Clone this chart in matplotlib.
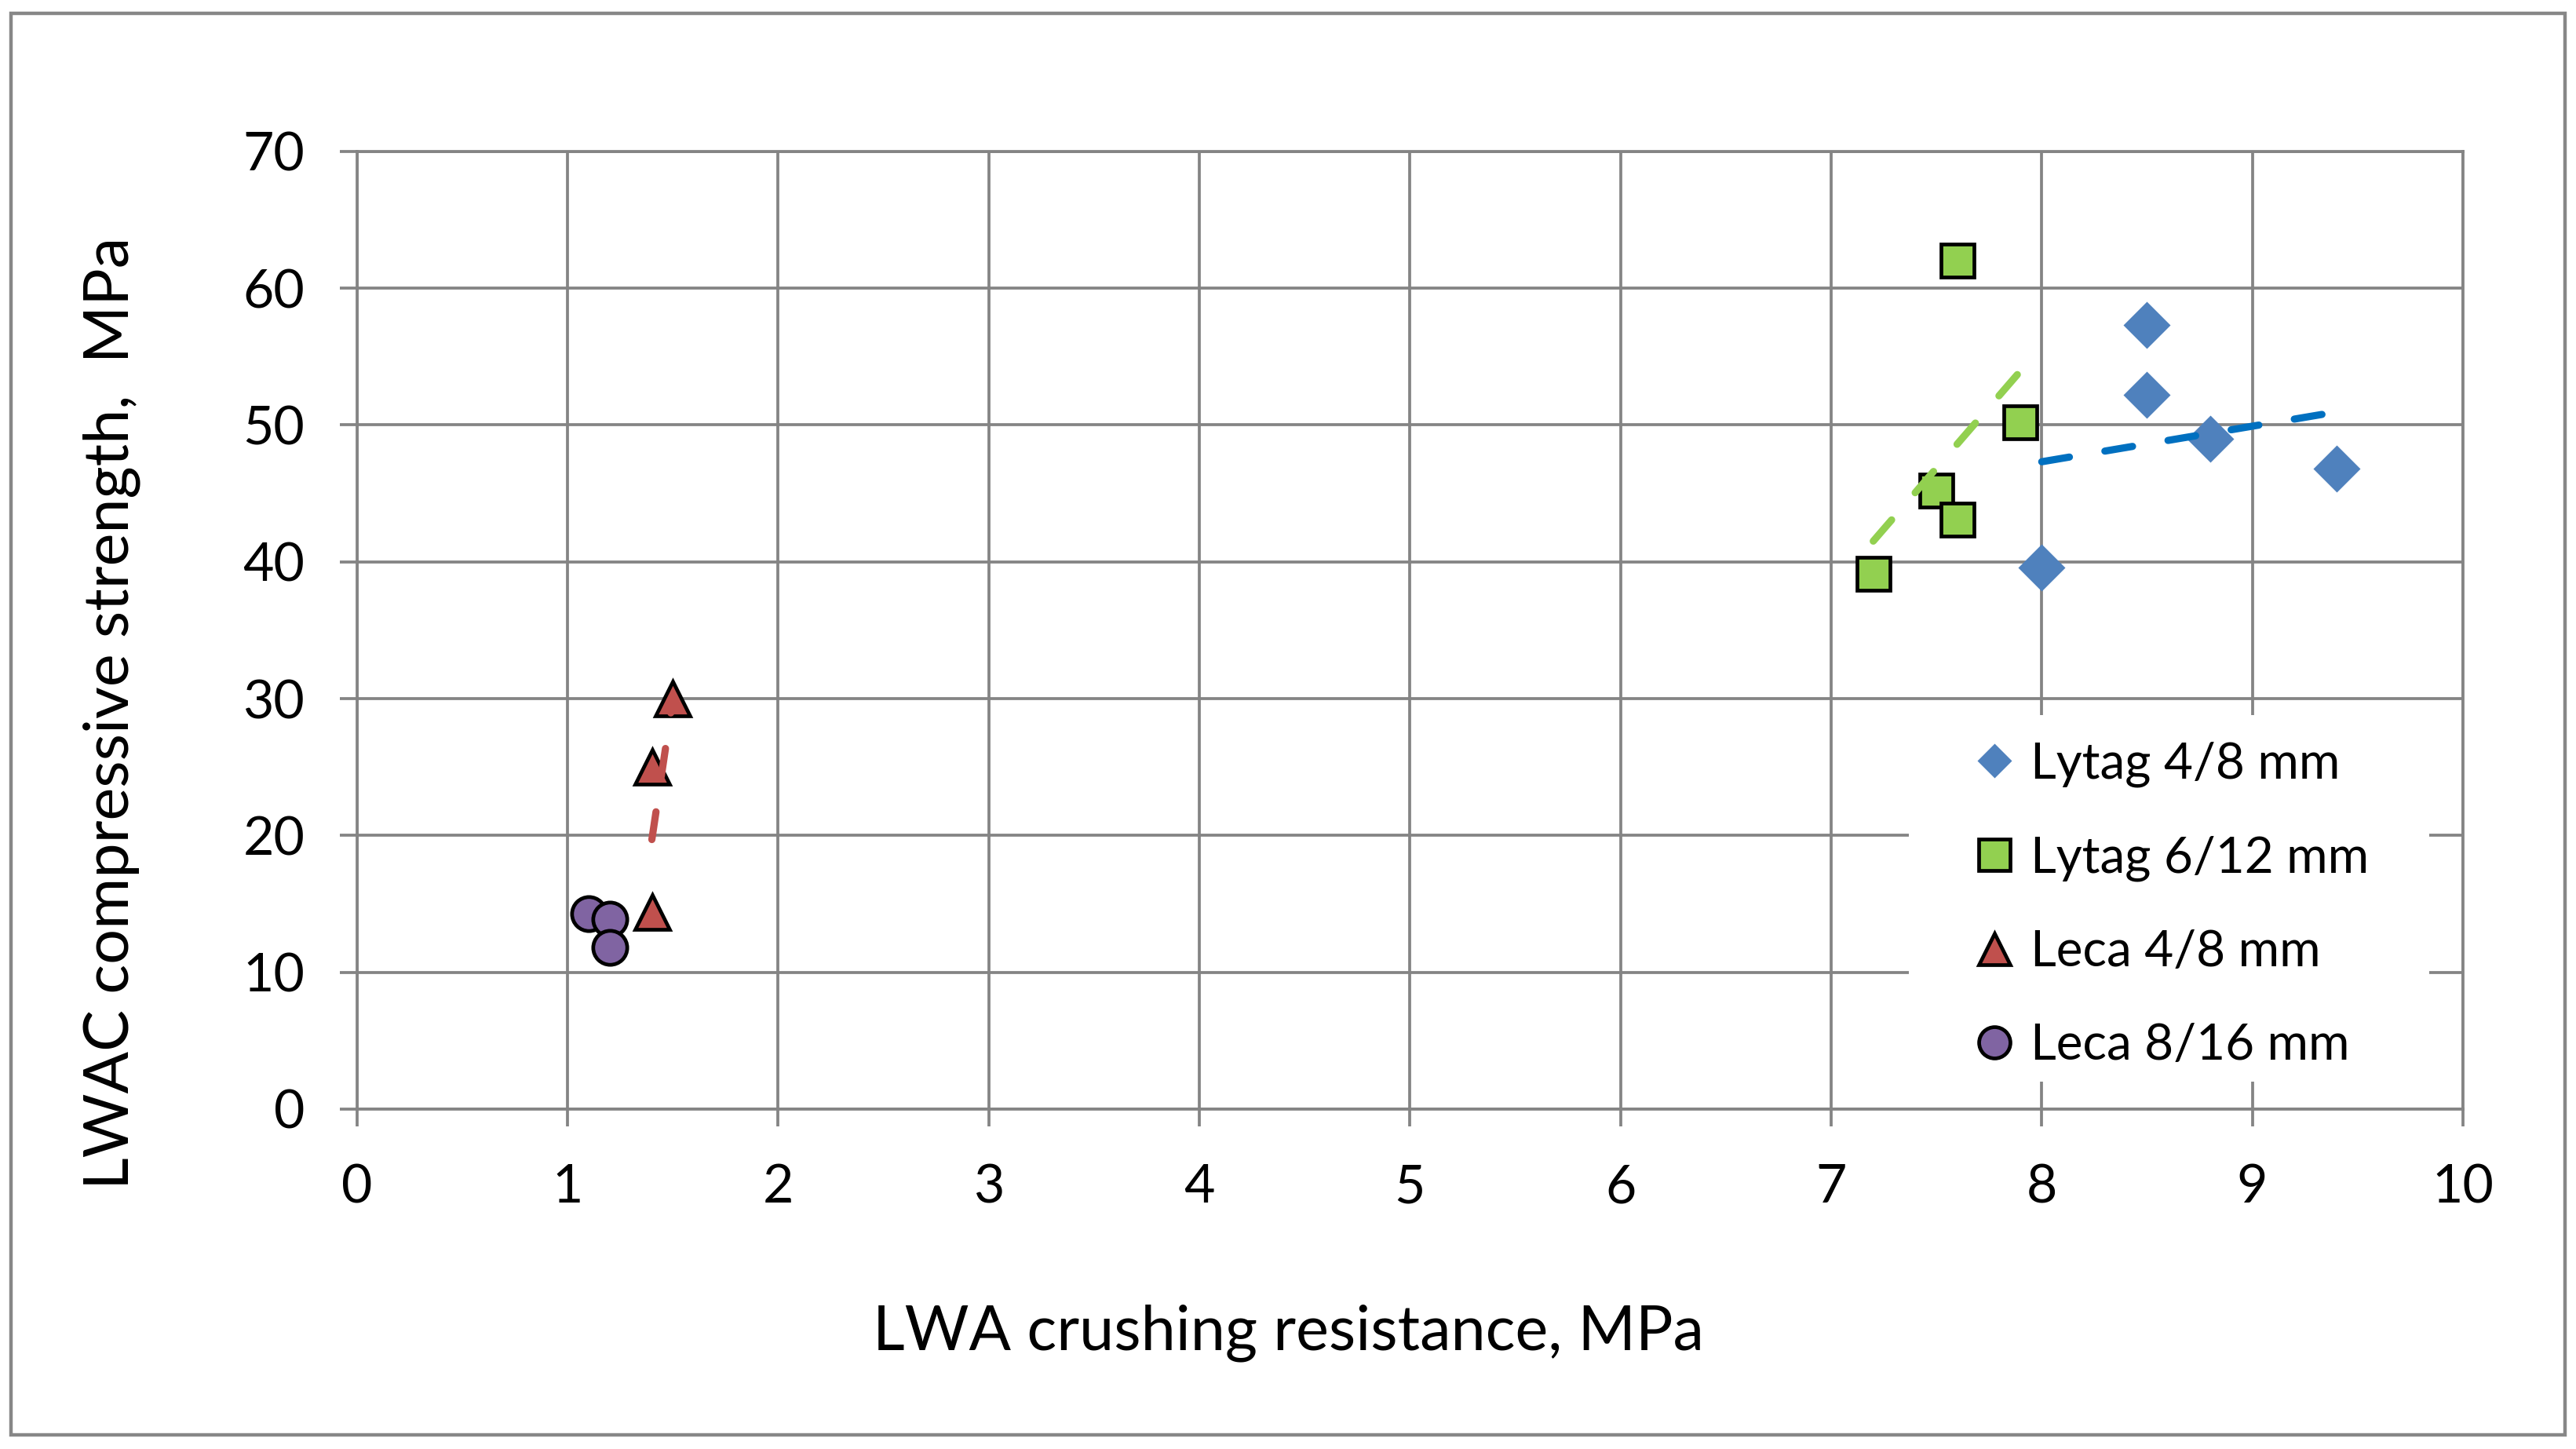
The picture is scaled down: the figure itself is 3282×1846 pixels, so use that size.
"""LWAC compressive strength vs LWA crushing resistance, with linear trendlines."""
import matplotlib
matplotlib.use("Agg")
import matplotlib.pyplot as plt
import numpy as np
from matplotlib.patches import Rectangle

plt.rcParams["font.family"] = ["Lato", "DejaVu Sans"]

# ---------------------------------------------------------------------------
# Data
# ---------------------------------------------------------------------------
lytag48_x = [8.0, 8.5, 8.5, 8.8, 9.4]
lytag48_y = [39.6, 57.3, 52.2, 49.0, 46.8]

lytag612_x = [7.2, 7.5, 7.6, 7.6, 7.9]
lytag612_y = [39.1, 45.2, 43.1, 62.0, 50.2]

leca48_x = [1.4, 1.4, 1.5]
leca48_y = [14.4, 25.0, 30.0]

leca816_x = [1.1, 1.2, 1.2]
leca816_y = [14.3, 13.9, 11.8]

labels = ["Lytag 4/8 mm", "Lytag 6/12 mm", "Leca 4/8 mm", "Leca 8/16 mm"]
x_ticks = [0, 1, 2, 3, 4, 5, 6, 7, 8, 9, 10]
y_ticks = [0, 10, 20, 30, 40, 50, 60, 70]

GRID = "#848484"

# (x, y, marker, face, edge, markersize, trend colour or None)
series = [
    (lytag48_x, lytag48_y, "D", "#4F81BD", "none", 15.3, "#0070C0"),
    (lytag612_x, lytag612_y, "s", "#92D050", "black", 15.4, "#92D050"),
    (leca48_x, leca48_y, "^", "#C0504D", "black", 15.6, "#C0504D"),
    (leca816_x, leca816_y, "o", "#8064A2", "black", 15.6, None),
]

fig = plt.figure(figsize=(16.41, 9.23), dpi=200)
ax = fig.add_axes([0.1386, 0.2346, 0.8175, 0.6609])

# outer chart border
fig.patches.append(Rectangle((0.0043, 0.0098), 0.9915, 0.981, transform=fig.transFigure,
                             fill=False, edgecolor="#878787", linewidth=1.6))

handles = []
for i, (xs, ys, mk, fc, ec, ms, tc) in enumerate(series):
    h, = ax.plot(xs, ys, linestyle="none", marker=mk, markersize=ms,
                 markerfacecolor=fc, markeredgecolor=ec, markeredgewidth=1.7,
                 label=labels[i], zorder=3 + i)
    handles.append(h)
    if tc is not None:
        coef = np.polyfit(xs, ys, 1)
        ends = np.array([min(xs), max(xs)])
        ax.plot(ends, np.polyval(coef, ends), color=tc, linewidth=3.3,
                linestyle=(0, (3.9, 5.0)), dash_capstyle="round", zorder=3.5 + i)

ax.set_xlim(0, 10)
ax.set_ylim(0, 70)
ax.set_xticks(x_ticks)
ax.set_yticks(y_ticks)
ax.grid(True, color=GRID, linewidth=1.35)
ax.set_axisbelow(True)
for sp in ax.spines.values():
    sp.set_color(GRID)
    sp.set_linewidth(1.35)
ax.tick_params(axis="both", direction="out", length=8, width=1.35, color=GRID,
               labelsize=24.5, labelcolor="black")
ax.tick_params(axis="x", pad=17)
ax.tick_params(axis="y", pad=16)

# white box behind the legend hides the grid
ax.add_patch(Rectangle((0.737, 0.029), 0.247, 0.382, transform=ax.transAxes,
                       facecolor="white", edgecolor="none", zorder=2))

leg = ax.legend(handles=handles, loc="upper left", bbox_to_anchor=(0.765, 0.384),
                frameon=False, fontsize=23, borderpad=0, borderaxespad=0,
                handlelength=1.06, handletextpad=0.18, labelspacing=0.96,
                markerscale=0.92)
leg.set_zorder(10)
leg.legend_handles[0].set_markersize(15.3 * 0.72)

fig.text(0.5, 0.0683, "LWA crushing resistance, MPa", ha="center", va="baseline",
         fontsize=28.5)
fig.text(0.0497, 0.508, "LWAC compressive strength,  MPa", ha="center", va="baseline",
         rotation=90, rotation_mode="anchor", fontsize=28.5)

fig.savefig("out.png", dpi=200)
